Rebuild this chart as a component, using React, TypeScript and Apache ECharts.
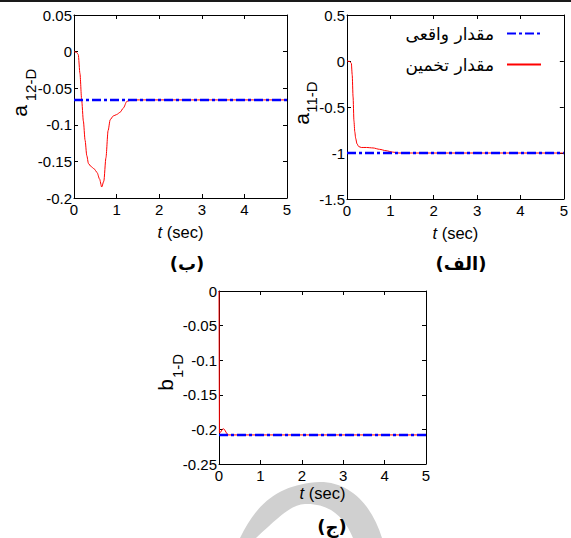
import React, { useEffect, useRef } from 'react';
import * as echarts from 'echarts';

const REAL_NAME = 'مقدار واقعی';
const EST_NAME = 'مقدار تخمین';

// time axis (sec)
const X_MIN = 0;
const X_MAX = 5;
const X_STEP = 1;

// panel (ب): a12-D
const T_A12 = [0, 0.06, 0.1, 0.14, 0.18, 0.22, 0.26, 0.3, 0.34, 0.4, 0.47, 0.54, 0.6, 0.65, 0.7, 0.75, 0.8, 0.85, 0.92, 1.0, 1.08, 1.16, 1.24, 1.35, 5];
const V_A12 = [0, -0.001, -0.004, -0.03, -0.066, -0.095, -0.121, -0.142, -0.153, -0.157, -0.16, -0.165, -0.174, -0.185, -0.177, -0.145, -0.108, -0.093, -0.088, -0.086, -0.083, -0.077, -0.068, -0.066, -0.066];
const REAL_A12 = -0.066;

// panel (الف): a11-D
const T_A11 = [0, 0.06, 0.1, 0.12, 0.14, 0.16, 0.18, 0.2, 0.23, 0.27, 0.33, 0.45, 0.6, 0.75, 0.9, 1.05, 1.2, 5];
const V_A11 = [0, -0.005, -0.025, -0.15, -0.39, -0.65, -0.77, -0.84, -0.9, -0.93, -0.94, -0.94, -0.945, -0.96, -0.975, -0.99, -1, -1];
const REAL_A11 = -1;

// panel (ج): b1-D
const T_B1 = [0, 0.01, 0.04, 0.08, 0.11, 0.14, 0.18, 0.22, 0.3, 5];
const V_B1 = [0, -0.205, -0.204, -0.2, -0.199, -0.201, -0.205, -0.208, -0.208, -0.208];
const REAL_B1 = -0.208;

// y ranges
const Y_A12 = { min: -0.2, max: 0.05, interval: 0.05 };
const Y_A11 = { min: -1.5, max: 0.5, interval: 0.5 };
const Y_B1 = { min: -0.25, max: 0, interval: 0.05 };

const FONT = "'Liberation Sans', Arial, Helvetica, sans-serif";
const AR_FONT = "'DejaVu Sans', sans-serif";

const pairs = (t: number[], v: number[]) => t.map((x, i) => [x, v[i]]);

const WATERMARK_D =
  'M 240 538 C 258 500 282 484 320 482 C 350 482 372 505 382 538 L 353 538 C 345 518 330 503 305 504 C 292 505 284 512 256 538 Z';

let registered = false;
function registerWatermark() {
  if (registered) return;
  registered = true;
  echarts.graphic.registerShape('wm', echarts.graphic.extendPath(WATERMARK_D, {}) as any);
}

export default function App() {
  const ref = useRef<HTMLDivElement>(null);

  useEffect(() => {
    if (!ref.current) return;
    registerWatermark();
    const chart = echarts.init(ref.current, undefined, { renderer: 'svg' });

    const grids = [
      { left: 74, top: 15, width: 213, height: 183 },
      { left: 347, top: 15, width: 219, height: 184 },
      { left: 219, top: 291, width: 207, height: 173 },
    ];
    const yRanges = [Y_A12, Y_A11, Y_B1];
    const nameGaps = [25, 25, 20];

    const axisLine = { show: true, onZero: false, lineStyle: { color: '#000', width: 1 } };
    const axisTick = { show: true, inside: true, length: 4, lineStyle: { color: '#000', width: 1 } };
    const fmt = (v: number) => String(Math.round(v * 100) / 100);

    const xAxis: any[] = [];
    const yAxis: any[] = [];
    for (let i = 0; i < 3; i++) {
      xAxis.push({
        type: 'value', gridIndex: i, position: 'bottom', min: X_MIN, max: X_MAX, interval: X_STEP,
        axisLine, axisTick, splitLine: { show: false },
        axisLabel: { color: '#000', fontSize: 15, fontFamily: FONT, margin: 4, formatter: fmt },
        name: '{i|t} (sec)', nameLocation: 'middle', nameGap: nameGaps[i],
        nameTextStyle: {
          color: '#000', fontSize: 16.5, fontFamily: FONT,
          rich: { i: { fontStyle: 'italic', fontSize: 16.5, fontFamily: FONT, color: '#000' } },
        },
      });
      yAxis.push({
        type: 'value', gridIndex: i, position: 'left', ...yRanges[i],
        axisLine, axisTick, splitLine: { show: false },
        axisLabel: { color: '#000', fontSize: 15, fontFamily: FONT, margin: 2, formatter: fmt },
      });
    }
    for (let i = 0; i < 3; i++) {
      xAxis.push({
        type: 'value', gridIndex: i, position: 'top', min: X_MIN, max: X_MAX, interval: X_STEP,
        axisLine, axisTick, splitLine: { show: false }, axisLabel: { show: false },
      });
      yAxis.push({
        type: 'value', gridIndex: i, position: 'right', ...yRanges[i],
        axisLine, axisTick, splitLine: { show: false }, axisLabel: { show: false },
      });
    }

    const est = (idx: number, data: number[][], smooth: number | boolean) => ({
      name: EST_NAME, type: 'line', xAxisIndex: idx, yAxisIndex: idx, data,
      symbol: 'none', smooth, smoothMonotone: 'x',
      lineStyle: { color: '#ff0000', width: 1 }, itemStyle: { color: '#ff0000' }, z: 2,
    });
    const real = (idx: number, v: number) => ({
      name: REAL_NAME, type: 'line', xAxisIndex: idx, yAxisIndex: idx,
      data: [[X_MIN, v], [X_MAX, v]], symbol: 'none',
      lineStyle: { color: '#0000ff', width: 2.5, type: [9, 3, 3, 3] }, itemStyle: { color: '#0000ff' }, z: 3,
    });

    const txt = (x: number, y: number, text: string, size: number, opts: any = {}) => ({
      type: 'text', x, y, ...opts,
      style: { text, fontSize: size, fontFamily: FONT, fill: '#000', align: 'center', verticalAlign: 'middle', ...(opts.style || {}) },
    });
    const rot = { rotation: Math.PI / 2 };
    const bold = { style: { fontWeight: 'bold', fontFamily: AR_FONT } };

    const option: any = {
      animation: false,
      backgroundColor: '#fff',
      grid: grids,
      xAxis,
      yAxis,
      legend: {
        data: [REAL_NAME, EST_NAME],
        orient: 'vertical', right: 24, top: 20, align: 'right',
        itemWidth: 34, itemHeight: 12, itemGap: 14, selectedMode: false,
        itemStyle: { opacity: 0 },
        textStyle: { fontSize: 17, fontFamily: AR_FONT, color: '#000', padding: [0, 8, 0, 0] },
      },
      series: [
        est(0, pairs(T_A12, V_A12), 0.25), real(0, REAL_A12),
        est(1, pairs(T_A11, V_A11), 0.25), real(1, REAL_A11),
        est(2, pairs(T_B1, V_B1), false), real(2, REAL_B1),
      ],
      graphic: [
        { type: 'wm', x: 0, y: 0, z: -10, silent: true, style: { fill: '#d0d0d0' } },
        { type: 'rect', shape: { x: 0, y: 0, width: 571, height: 2 }, style: { fill: '#1a1a1a' } },
        txt(19, 111, 'a', 21, rot),
        txt(30, 85, '12-D', 15, rot),
        txt(301, 119, 'a', 21, rot),
        txt(311, 97, '11-D', 15, rot),
        txt(165, 385, 'b', 21, rot),
        txt(177, 366, '1-D', 15, rot),
        txt(187, 263, '(ب)', 18, bold),
        txt(461, 263, '(الف)', 18, bold),
        txt(332, 526, '(ج)', 18, bold),
      ],
    };
    chart.setOption(option);
    return () => chart.dispose();
  }, []);

  return (
    <div
      ref={ref}
      style={{ position: 'absolute', left: 0, top: 0, width: 571, height: 538, background: '#fff' }}
    />
  );
}
